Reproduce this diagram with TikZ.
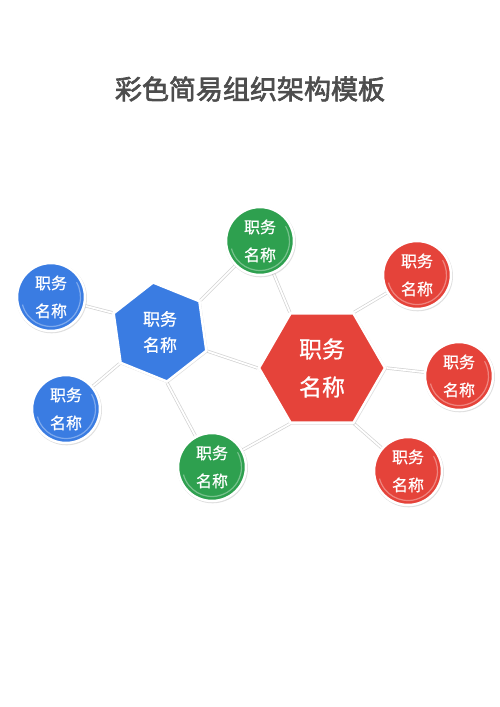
\documentclass[tikz,border=0pt]{standalone}
\usepackage{fontspec}
\newfontfamily\cjk[FakeBold=0.7]{Noto Sans CJK SC}
\newfontfamily\cjkbold[AutoFakeBold=2.4]{Noto Sans CJK SC}
\usetikzlibrary{shapes.geometric,shadows,backgrounds}
\definecolor{bluec}{HTML}{3A7CE2}
\definecolor{greenc}{HTML}{2EA04F}
\definecolor{redc}{HTML}{E5433A}
\definecolor{titlec}{HTML}{4D4D4D}
\begin{document}
\begin{tikzpicture}[x=1pt,y=-1pt,
    ball/.style={circle,fill=#1,draw=white,line width=2.5pt,minimum size=68pt,
      inner sep=0pt,text=white,align=center,font=\cjk\fontsize{16}{28}\selectfont,
      drop shadow={shadow xshift=0.6pt,shadow yshift=-0.9pt,shadow scale=1.04,opacity=.25},
      path picture={\draw[white,opacity=.35,line width=1.2pt]
        (path picture bounding box.center) ++(-165:29.5pt)
        arc[start angle=-165,end angle=30,radius=29.5pt];}},
    hexa/.style={regular polygon,regular polygon sides=6,fill=#1,draw=white,
      line width=2.5pt,inner sep=0pt,text=white,align=center,
      drop shadow={shadow xshift=0.6pt,shadow yshift=-0.9pt,shadow scale=1.02,opacity=.25}},
    link/.style={draw=gray!35,double=white,line width=0.7pt,double distance=1.8pt}]
  \useasboundingbox (0,0) rectangle (500,707);
  \node[font=\cjkbold\bfseries\fontsize{27}{27}\selectfont,text=titlec] (title) at (250,89) {彩色简易组织架构模板};
  \draw
    (322,368) node[hexa=redc,minimum size=126pt,font=\cjk\fontsize{23}{38}\selectfont] (red){职务\\名称}
    (160,332) node[hexa=bluec,minimum size=100pt,shape border rotate=-22,font=\cjk\fontsize{17}{26}\selectfont] (blue){职务\\名称}
    (260,241) node[ball=greenc] (g1){职务\\名称}
    (212,467) node[ball=greenc] (g2){职务\\名称}
    (51,297) node[ball=bluec] (b1){职务\\名称}
    (66,409) node[ball=bluec] (b2){职务\\名称}
    (417,275) node[ball=redc] (r1){职务\\名称}
    (459,376) node[ball=redc] (r2){职务\\名称}
    (408,471) node[ball=redc] (r3){职务\\名称};
  \begin{scope}[on background layer]
    \draw[link] (b1) to (blue.corner 3);
    \draw[link] (b2) to (blue.corner 4);
    \draw[link] (g1) to (blue.corner 1);
    \draw[link] (g1) to (red.corner 2);
    \draw[link] (blue.corner 6) to (red.corner 3);
    \draw[link] (blue.corner 5) to (g2);
    \draw[link] (g2) to (red.corner 4);
    \draw[link] (red.corner 1) to (r1);
    \draw[link] (red.corner 6) to (r2);
    \draw[link] (red.corner 5) to (r3);
  \end{scope}
\end{tikzpicture}
\end{document}
